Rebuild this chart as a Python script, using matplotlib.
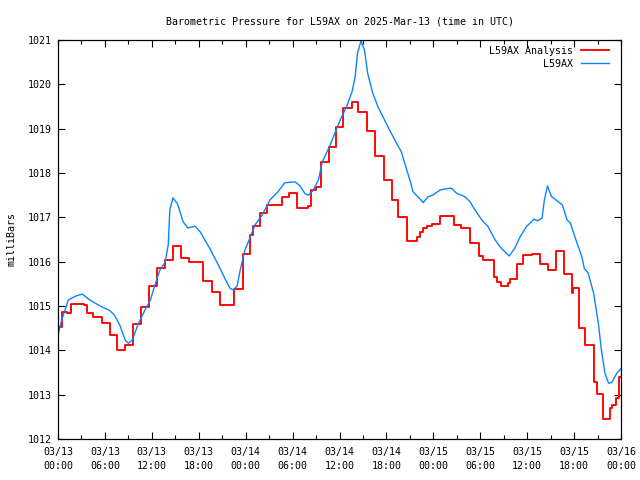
import matplotlib
matplotlib.use("Agg")
import matplotlib.pyplot as plt
from matplotlib.lines import Line2D

# hours since 2025-03-13 00:00 UTC
station_hours = [0, 0.5, 1.3, 2.2, 3.1, 4.1, 5.4, 6.6, 7.2, 7.9,
                 8.6, 9.0, 9.5, 10.2, 11.1, 11.8, 12.4, 13.0, 13.7, 14.1,
                 14.3, 14.7, 15.3, 16.0, 16.6, 17.5, 18.2, 19.4, 20.7, 21.4,
                 22.0, 22.4, 22.9, 23.3, 23.9, 24.6, 25.2, 26.1, 27.1, 28.1,
                 29.0, 30.3, 30.9, 31.6, 32.0, 32.6, 33.3, 33.8, 34.8, 36.1,
                 36.9, 37.6, 38.0, 38.3, 38.75, 39.2, 39.6, 40.2, 40.9, 42.2,
                 43.3, 43.9, 44.6, 45.0, 45.4, 46.3, 46.7, 47.3, 47.9,
                 48.9, 50.3, 51.0, 52.0, 52.7, 53.3, 54.2, 55.0, 55.9, 56.7,
                 57.7, 58.4, 59.1, 59.9, 60.9, 61.3, 61.9, 62.2, 62.6, 63.1,
                 64.0, 64.5, 65.1, 65.5, 66.1, 67.0, 67.3, 67.8, 68.5, 69.1,
                 69.5, 69.95, 70.4, 70.8, 71.45, 72.0]
station_mb = [1014.35, 1014.7, 1015.13, 1015.22, 1015.27, 1015.13, 1015.0, 1014.9, 1014.8, 1014.57,
              1014.23, 1014.16, 1014.23, 1014.57, 1014.9, 1015.13, 1015.47, 1015.8, 1015.99, 1016.38,
              1017.17, 1017.44, 1017.3, 1016.9, 1016.76, 1016.8, 1016.67, 1016.3, 1015.86, 1015.6,
              1015.4, 1015.36, 1015.45, 1015.81, 1016.26, 1016.56, 1016.83, 1017.05, 1017.39, 1017.57,
              1017.78, 1017.8, 1017.72, 1017.53, 1017.5, 1017.6, 1017.84, 1018.25, 1018.63, 1019.2,
              1019.5, 1019.83, 1020.17, 1020.7, 1020.98, 1020.77, 1020.25, 1019.83, 1019.5, 1019.04,
              1018.67, 1018.48, 1018.07, 1017.84, 1017.58, 1017.41, 1017.33, 1017.46, 1017.5,
              1017.62, 1017.66, 1017.54, 1017.47, 1017.35, 1017.17, 1016.94, 1016.79, 1016.49, 1016.3,
              1016.13, 1016.3, 1016.56, 1016.79, 1016.96, 1016.92, 1016.98, 1017.39, 1017.71, 1017.47,
              1017.35, 1017.28, 1016.94, 1016.88, 1016.56, 1016.11, 1015.85, 1015.74, 1015.29, 1014.61,
              1014.0, 1013.48, 1013.26, 1013.27, 1013.48, 1013.59]

analysis_hours = [0, 0.47, 1.1, 1.66, 3.36, 3.75, 4.5, 5.6, 6.65, 7.6,
                  8.6, 9.6, 10.6, 11.6, 12.6, 13.7, 14.7, 15.7, 16.7, 18.5,
                  19.7, 20.7, 22.5, 23.7, 24.6, 24.9, 25.8, 26.7, 28.6, 29.5,
                  30.6, 32.0, 32.4, 33.0, 33.6, 34.6, 35.6, 36.5, 37.6, 38.4,
                  39.5, 40.6, 41.7, 42.7, 43.5, 44.6, 45.9, 46.3, 46.7, 47.2,
                  47.8, 48.8, 50.6, 51.6, 52.7, 53.8, 54.4, 55.7, 56.1, 56.7,
                  57.6, 57.8, 58.7, 59.5, 60.6, 61.6, 62.7, 63.7, 64.7, 65.7,
                  65.9, 66.6, 67.4, 68.6, 68.9, 69.7, 70.6, 70.9, 71.4, 71.7,
                  72.0]
analysis_mb = [1014.53, 1014.87, 1014.84, 1015.04, 1015.02, 1014.85, 1014.76, 1014.62, 1014.35, 1014.0,
               1014.12, 1014.59, 1014.98, 1015.44, 1015.86, 1016.04, 1016.35, 1016.08, 1016.0, 1015.57,
               1015.31, 1015.02, 1015.38, 1016.17, 1016.6, 1016.8, 1017.1, 1017.28, 1017.45, 1017.54,
               1017.21, 1017.26, 1017.62, 1017.69, 1018.25, 1018.59, 1019.04, 1019.46, 1019.61, 1019.38,
               1018.95, 1018.39, 1017.84, 1017.39, 1017.0, 1016.47, 1016.56, 1016.68, 1016.76, 1016.8,
               1016.86, 1017.03, 1016.82, 1016.77, 1016.43, 1016.13, 1016.04, 1015.65, 1015.55, 1015.45,
               1015.51, 1015.6, 1015.94, 1016.14, 1016.17, 1015.95, 1015.81, 1016.25, 1015.72, 1015.29,
               1015.4, 1014.51, 1014.12, 1013.29, 1013.01, 1012.44, 1012.69, 1012.77, 1012.92, 1013.4,
               1013.4]

tick_hours = list(range(0, 73, 6))
tick_labels = ["03/13\n00:00", "03/13\n06:00", "03/13\n12:00", "03/13\n18:00",
               "03/14\n00:00", "03/14\n06:00", "03/14\n12:00", "03/14\n18:00",
               "03/15\n00:00", "03/15\n06:00", "03/15\n12:00", "03/15\n18:00",
               "03/16\n00:00"]

font = "DejaVu Sans Mono"
fs = 7.2

fig = plt.figure(figsize=(6.4, 4.8), dpi=100)
ax = fig.add_axes([58 / 640, 41 / 480, 563 / 640, 399 / 480])

ax.step(analysis_hours, analysis_mb, where="post", color="#ff0000", lw=1.35)
ax.plot(station_hours, station_mb, color="#0a84ff", lw=1.0)

ax.set_xlim(0, 72)
ax.set_ylim(1012, 1021)
ax.set_xticks(tick_hours)
ax.set_xticklabels(tick_labels, family=font, fontsize=fs, linespacing=1.5)
ax.set_xticks(range(0, 73, 3), minor=True)
ax.set_yticks(range(1012, 1022))
ax.set_yticklabels([str(v) for v in range(1012, 1022)], family=font, fontsize=fs)
ax.tick_params(direction="in", top=True, right=True, length=5, width=0.8, pad=4.5)
ax.tick_params(axis="x", pad=5.5)
ax.tick_params(which="minor", direction="in", top=True, length=3, width=0.8)
for s in ax.spines.values():
    s.set_linewidth(0.9)

ax.set_ylabel("milliBars", family=font, fontsize=fs, labelpad=8)
ax.set_title("Barometric Pressure for L59AX on 2025-Mar-13 (time in UTC)",
             family=font, fontsize=fs, pad=11)

handles = [Line2D([], [], color="#ff0000", lw=1.35), Line2D([], [], color="#0a84ff", lw=1.0)]
leg = ax.legend(handles, ["L59AX Analysis", "L59AX"], loc="upper right",
                bbox_to_anchor=(1 - 6 / 563, 1),
                frameon=False, prop={"family": font, "size": fs}, markerfirst=False,
                handlelength=2.8, handletextpad=0.8, labelspacing=0.3,
                borderaxespad=0.2)
leg._legend_box.align = "right"

fig.savefig("out.png", dpi=100)
